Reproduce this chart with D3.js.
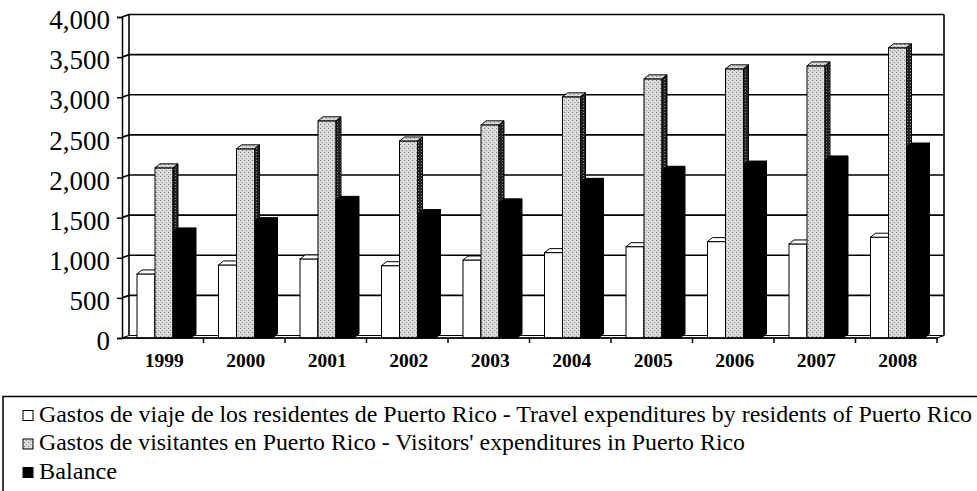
<!DOCTYPE html>
<html>
<head>
<meta charset="utf-8">
<script src="https://cdn.jsdelivr.net/npm/d3@7"></script>
<style>
  body { margin: 0; background: #fff; }
  svg { display: block; font-family: 'Liberation Serif', 'Times New Roman', serif; }
</style>
</head>
<body>
<svg id="chart" width="977" height="491"></svg>
<script>
// values (millions of dollars)
const years = ['1999', '2000', '2001', '2002', '2003', '2004', '2005', '2006', '2007', '2008']
const residents = [798, 910, 985, 901, 972, 1064, 1138, 1201, 1172, 1256]
const visitors = [2120, 2357, 2706, 2455, 2656, 3005, 3229, 3354, 3391, 3616]
const balance = [1322, 1450, 1715, 1550, 1684, 1940, 2090, 2155, 2219, 2380]
const yTicks = [0, 500, 1000, 1500, 2000, 2500, 3000, 3500, 4000]
const legendLabels = [
  'Gastos de viaje de los residentes de Puerto Rico - Travel expenditures by residents of Puerto Rico',
  'Gastos de visitantes en Puerto Rico - Visitors\' expenditures in Puerto Rico',
  'Balance'
]

const font = "'Liberation Serif', 'Times New Roman', serif"
const plot = { left: 122, right: 937, top: 17, bottom: 338 }
const wall = { dx: 7, dy: -2.5 }   // depth of back wall
const bar = { dx: 5, dy: -4, w: 18, offset: 15 }
const legendWidths = [933, 706, 78]  // widths of the scanned legend lines

const svg = d3.select('#chart')
const defs = svg.append('defs')

// stipple pattern for the grey series
const stipple = defs.append('pattern')
  .attr('id', 'stipple')
  .attr('width', 4).attr('height', 4)
  .attr('patternUnits', 'userSpaceOnUse')
stipple.append('rect').attr('width', 4).attr('height', 4).attr('fill', '#d8d8d8')
stipple.append('rect').attr('x', 0).attr('y', 0).attr('width', 1).attr('height', 1).attr('fill', '#7a7a7a')
stipple.append('rect').attr('x', 2).attr('y', 2).attr('width', 1).attr('height', 1).attr('fill', '#959595')
stipple.append('rect').attr('x', 3).attr('y', 1).attr('width', 1).attr('height', 1).attr('fill', '#f2f2f2')

const darkStipple = defs.append('pattern')
  .attr('id', 'darkStipple')
  .attr('width', 3).attr('height', 3)
  .attr('patternUnits', 'userSpaceOnUse')
darkStipple.append('rect').attr('width', 3).attr('height', 3).attr('fill', '#222')
darkStipple.append('rect').attr('x', 1).attr('y', 1).attr('width', 1).attr('height', 1).attr('fill', '#888')

const series = [
  { values: residents, front: '#fff', top: '#fff', side: '#fff' },
  { values: visitors, front: 'url(#stipple)', top: 'url(#stipple)', side: 'url(#darkStipple)' },
  { values: balance, front: '#000', top: '#000', side: '#000' }
]

const x = d3.scaleBand().domain(years).range([plot.left, plot.right])
const y = d3.scaleLinear().domain([0, 4000]).range([plot.bottom, plot.top])

// back wall + gridlines
const grid = svg.append('g')
  .attr('fill', 'none')
  .attr('stroke', '#000')
  .attr('stroke-width', 1.6)

grid.selectAll('polyline')
  .data(yTicks.slice(1))
  .enter().append('polyline')
  .attr('points', d => [
    [plot.left, y(d)],
    [plot.left + wall.dx, y(d) + wall.dy],
    [plot.right + wall.dx, y(d) + wall.dy]
  ].join(' '))

grid.append('line')
  .attr('x1', plot.left + wall.dx).attr('x2', plot.left + wall.dx)
  .attr('y1', y(4000) + wall.dy).attr('y2', y(0) + wall.dy)
grid.append('line')
  .attr('x1', plot.right + wall.dx).attr('x2', plot.right + wall.dx)
  .attr('y1', y(4000) + wall.dy).attr('y2', y(0) + wall.dy)

// floor slab
svg.append('polygon')
  .attr('points', [
    [plot.left, y(0)], [plot.right, y(0)],
    [plot.right + wall.dx, y(0) + wall.dy], [plot.left + wall.dx, y(0) + wall.dy]
  ].join(' '))
  .attr('fill', '#fff')
  .attr('stroke', '#000')
  .attr('stroke-width', 1.2)

// 3d columns
const groups = svg.append('g')
  .selectAll('g')
  .data(years)
  .enter().append('g')

series.forEach((s, k) => {
  groups.each(function (yr, i) {
    const g = d3.select(this)
    const x0 = x(yr) + bar.offset + k * bar.w
    const t = y(s.values[i])
    const b = y(0)
    g.append('rect')
      .attr('x', x0).attr('y', t)
      .attr('width', bar.w).attr('height', b - t)
      .attr('fill', s.front).attr('stroke', '#000').attr('stroke-width', 1)
    g.append('polygon')
      .attr('points', [[x0, t], [x0 + bar.w, t], [x0 + bar.w + bar.dx, t + bar.dy], [x0 + bar.dx, t + bar.dy]].join(' '))
      .attr('fill', s.top).attr('stroke', '#000').attr('stroke-width', 1)
    g.append('polygon')
      .attr('points', [[x0 + bar.w, t], [x0 + bar.w + bar.dx, t + bar.dy], [x0 + bar.w + bar.dx, b + bar.dy], [x0 + bar.w, b]].join(' '))
      .attr('fill', s.side).attr('stroke', '#000').attr('stroke-width', 1)
  })
})

// front y axis
const yAxis = svg.append('g')
  .attr('transform', `translate(${plot.left},0)`)
  .call(d3.axisLeft(y).tickValues(yTicks).tickFormat(d3.format(',')).tickSize(5).tickPadding(7))
yAxis.select('.domain').attr('stroke-width', 1.5)
yAxis.selectAll('line').attr('stroke-width', 1.5)
yAxis.selectAll('text')
  .attr('font-family', font)
  .attr('font-size', 27)
  .attr('dy', '0.43em')
  .attr('fill', '#000')

// front x axis line + ticks on band edges
const xAxis = svg.append('g').attr('stroke', '#000').attr('stroke-width', 1.5)
xAxis.append('line')
  .attr('x1', plot.left).attr('x2', plot.right)
  .attr('y1', y(0)).attr('y2', y(0))
xAxis.selectAll('line.tick')
  .data(years.map(d => x(d)).concat([plot.right]).slice(1))
  .enter().append('line')
  .attr('class', 'tick')
  .attr('x1', d => d).attr('x2', d => d)
  .attr('y1', y(0)).attr('y2', y(0) + 5)

svg.append('g')
  .selectAll('text')
  .data(years)
  .enter().append('text')
  .attr('x', d => x(d) + x.bandwidth() / 2 + 1.5)
  .attr('y', 367)
  .attr('text-anchor', 'middle')
  .attr('font-family', font)
  .attr('font-size', 18)
  .attr('font-weight', 'bold')
  .attr('textLength', 39)
  .attr('lengthAdjust', 'spacingAndGlyphs')
  .text(d => d)

// legend
const legend = svg.append('g')
legend.append('rect')
  .attr('x', 3).attr('y', 396.5)
  .attr('width', 985).attr('height', 110)
  .attr('fill', '#fff')
  .attr('stroke', '#000')
  .attr('stroke-width', 1.5)

const swatches = ['#fff', 'url(#stipple)', '#000']
const item = legend.selectAll('g.item')
  .data(legendLabels)
  .enter().append('g')
  .attr('class', 'item')
  .attr('transform', (d, i) => `translate(0,${421.5 + i * 28.5})`)
item.append('rect')
  .attr('x', 23).attr('y', -11)
  .attr('width', 10).attr('height', 10)
  .attr('fill', (d, i) => swatches[i])
  .attr('stroke', '#000')
  .attr('stroke-width', 1)
item.append('text')
  .attr('x', 39)
  .attr('font-family', font)
  .attr('font-size', 23)
  .attr('textLength', (d, i) => legendWidths[i])
  .attr('lengthAdjust', 'spacingAndGlyphs')
  .text(d => d)
</script>
</body>
</html>
